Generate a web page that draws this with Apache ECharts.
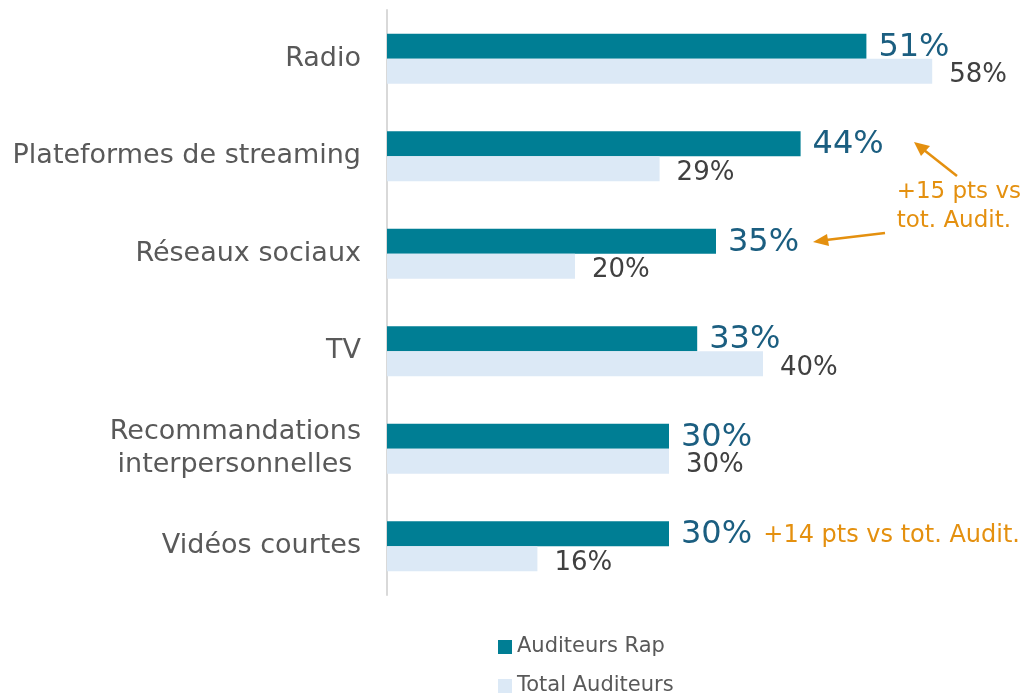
<!DOCTYPE html>
<html><head><meta charset="utf-8">
<script src="https://cdn.jsdelivr.net/npm/echarts@6/dist/echarts.min.js"></script>
<style>html,body{margin:0;padding:0;background:#fff}#c{width:1025px;height:694px}</style>
</head><body><div id="c"></div>
<script>
const categories = ['Radio', 'Plateformes de streaming', 'Réseaux sociaux', 'TV', 'Recommandations\ninterpersonnelles ', 'Vidéos courtes'];
const rapValues = [51, 44, 35, 33, 30, 30];
const totalValues = [58, 29, 20, 40, 30, 16];
const seriesNames = ['Auditeurs Rap', 'Total Auditeurs'];
const note1 = '+15 pts vs\ntot. Audit.';
const note2 = '+14 pts vs tot. Audit.';

const FONT = 'DejaVu Sans';
const ORANGE = '#E4900F';
const chart = echarts.init(document.getElementById('c'));
chart.setOption({
  animation: false,
  textStyle: { fontFamily: FONT },
  grid: { left: 387, right: 74, top: 10, bottom: 99 },
  xAxis: { type: 'value', min: 0, max: 60, show: false },
  yAxis: {
    type: 'category', data: categories, inverse: true,
    axisLine: { show: true, lineStyle: { color: '#d9d9d9', width: 2 } },
    axisTick: { show: false },
    axisLabel: { fontSize: 27, color: '#595959', margin: 26, fontFamily: FONT, lineHeight: 33 }
  },
  legend: {
    orient: 'vertical', left: 493, top: 630, height: 120, itemWidth: 14, itemHeight: 14, itemGap: 15,
    icon: 'rect',
    textStyle: { fontSize: 21, color: '#595959', fontFamily: FONT, lineHeight: 24 }
  },
  series: [
    {
      name: seriesNames[0], type: 'bar', data: rapValues, barWidth: 25, barGap: '0%',
      itemStyle: { color: '#007E94' },
      label: { show: true, position: 'right', distance: 12, formatter: '{c}%', fontSize: 32, color: '#1B5E80', fontFamily: FONT, offset: [0, 1] }
    },
    {
      name: seriesNames[1], type: 'bar', data: totalValues, barWidth: 25,
      itemStyle: { color: '#DCE9F6' },
      label: { show: true, position: 'right', distance: 17, formatter: '{c}%', fontSize: 26, color: '#404040', fontFamily: FONT, offset: [0, 4] }
    }
  ],
  graphic: [
    { type: 'text', right: 4, top: 178, style: { text: note1, fill: ORANGE, font: '23px ' + FONT, align: 'center', lineHeight: 29 } },
    { type: 'text', right: 5, top: 524, style: { text: note2, fill: ORANGE, font: '24px ' + FONT } },
    { type: 'line', shape: { x1: 957, y1: 176, x2: 924, y2: 150 }, style: { stroke: ORANGE, lineWidth: 2.5 } },
    { type: 'polygon', shape: { points: [[914, 142], [930, 146], [921, 156]] }, style: { fill: ORANGE } },
    { type: 'line', shape: { x1: 885, y1: 233, x2: 826, y2: 240 }, style: { stroke: ORANGE, lineWidth: 2.5 } },
    { type: 'polygon', shape: { points: [[813, 242], [827, 234], [829, 246]] }, style: { fill: ORANGE } }
  ]
});
</script></body></html>
